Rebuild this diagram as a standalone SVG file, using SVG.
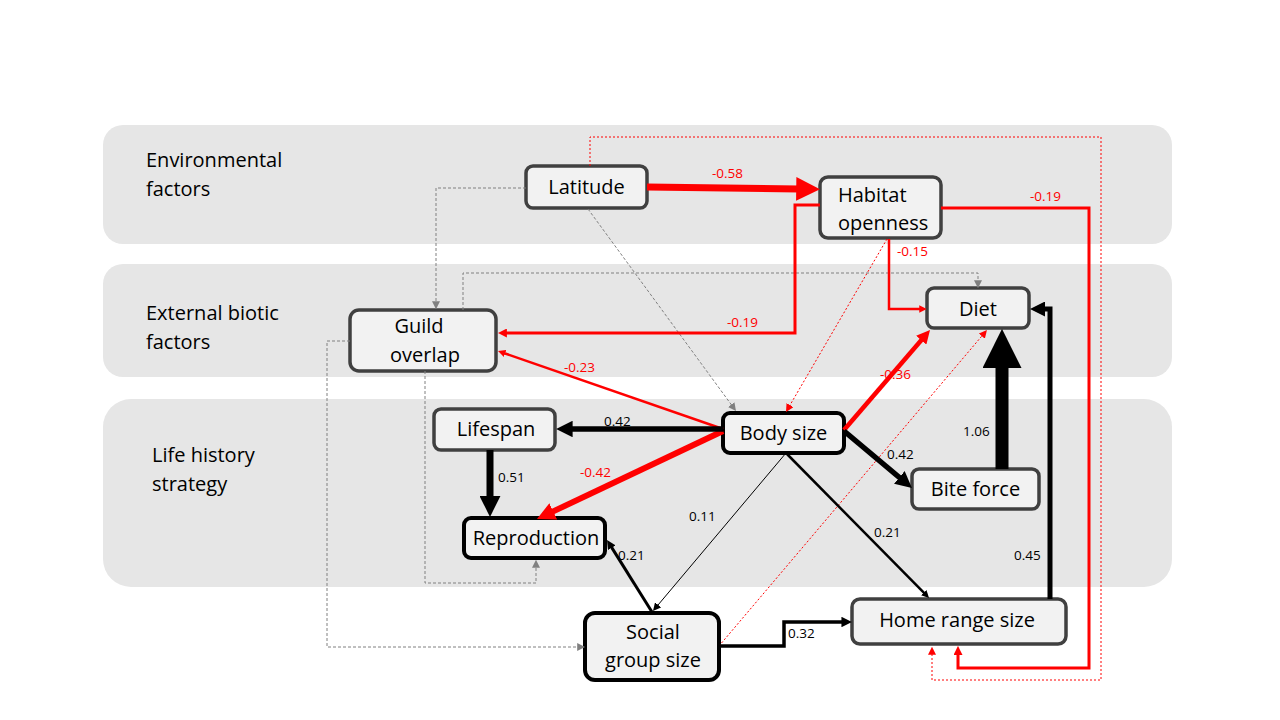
<svg xmlns="http://www.w3.org/2000/svg" width="1280" height="720" viewBox="0 0 1280 720">
<style>
.band{fill:#e6e6e6}
.bl{font-family:"Open Sans","Noto Sans",sans-serif;font-size:20px;fill:#000}
.nd{fill:#f2f2f2;stroke:#404040;stroke-width:3.5}
.nk{fill:#f2f2f2;stroke:#000;stroke-width:4}
.nt{font-family:"Open Sans","Noto Sans",sans-serif;font-size:20px;fill:#000;text-anchor:middle}
.lab{font-family:"Open Sans","Noto Sans",sans-serif;font-size:13.5px}
.r{fill:#ff0000}
.k{fill:#000}
.cr{fill:none;stroke:#ff0000;stroke-linejoin:miter}
.ck{fill:none;stroke:#000;stroke-linejoin:miter}
.cg{fill:none;stroke:#808080;stroke-width:1;stroke-dasharray:3,2}
.cd{fill:none;stroke:#ff0000;stroke-width:1;stroke-dasharray:2,2}
</style>
<defs>
<marker id="aR" viewBox="0 0 10 10" refX="1" refY="5" markerWidth="3" markerHeight="3" orient="auto" markerUnits="strokeWidth"><path d="M0,0L10,5L0,10z" fill="#ff0000"/></marker>
<marker id="aRL" viewBox="0 0 10 10" refX="1" refY="5" markerWidth="3.4" markerHeight="3.4" orient="auto" markerUnits="strokeWidth"><path d="M0,0L10,5L0,10z" fill="#ff0000"/></marker>
<marker id="aK" viewBox="0 0 10 10" refX="1" refY="5" markerWidth="3" markerHeight="3" orient="auto" markerUnits="strokeWidth"><path d="M0,0L10,5L0,10z" fill="#000"/></marker>
<marker id="aRs" viewBox="0 0 10 10" refX="1" refY="5" markerWidth="8" markerHeight="8" orient="auto" markerUnits="userSpaceOnUse"><path d="M0,0L10,5L0,10z" fill="#ff0000"/></marker>
<marker id="aKs" viewBox="0 0 10 10" refX="1" refY="5" markerWidth="8" markerHeight="8" orient="auto" markerUnits="userSpaceOnUse"><path d="M0,0L10,5L0,10z" fill="#000"/></marker>
<marker id="aGs" viewBox="0 0 10 10" refX="1" refY="5" markerWidth="8" markerHeight="8" orient="auto" markerUnits="userSpaceOnUse"><path d="M0,0L10,5L0,10z" fill="#808080"/></marker>
</defs>
<rect width="1280" height="720" fill="#fff"/>
<g id="bands">
<rect class="band" x="103" y="125" width="1069" height="119" rx="20"/>
<rect class="band" x="103" y="264" width="1069" height="113" rx="20"/>
<rect class="band" x="103" y="399" width="1069" height="188" rx="28"/>
<text class="bl" x="146" y="167">Environmental</text>
<text class="bl" x="146" y="196">factors</text>
<text class="bl" x="146" y="320">External biotic</text>
<text class="bl" x="146" y="349">factors</text>
<text class="bl" x="152" y="462">Life history</text>
<text class="bl" x="152" y="491">strategy</text>
</g>
<g id="node-latitude"><rect class="nd" x="526" y="166" width="121" height="42" rx="7"/><text class="nt" x="586.5" y="194">Latitude</text></g>
<g id="node-habitat"><rect class="nd" x="820" y="177" width="121" height="61" rx="8"/><text class="bl" x="838" y="202">Habitat</text><text class="bl" x="838" y="230">openness</text></g>
<g id="node-diet"><rect class="nd" x="927" y="288" width="102" height="40" rx="7"/><text class="nt" x="978" y="316">Diet</text></g>
<g id="node-guild"><rect class="nd" x="350" y="310" width="146" height="61" rx="9"/><text class="nt" x="419" y="333">Guild</text><text class="nt" x="425" y="362">overlap</text></g>
<g id="node-lifespan"><rect class="nd" x="434" y="409" width="121" height="41" rx="7"/><text class="nt" x="496" y="436">Lifespan</text></g>
<g id="node-bodysize"><rect class="nk" x="723" y="413" width="121" height="40" rx="7"/><text class="nt" x="783.5" y="440">Body size</text></g>
<g id="node-biteforce"><rect class="nd" x="912" y="469" width="127" height="40" rx="7"/><text class="nt" x="975.5" y="496">Bite force</text></g>
<g id="node-reproduction"><rect class="nk" x="464" y="518" width="141" height="40" rx="7"/><text class="nt" x="536" y="545">Reproduction</text></g>
<g id="node-social"><rect class="nk" x="585" y="613" width="134" height="67" rx="10"/><text class="nt" x="653" y="639">Social</text><text class="nt" x="653" y="667">group size</text></g>
<g id="node-homerange"><rect class="nd" x="852" y="599" width="214" height="45" rx="8"/><text class="nt" x="957" y="627">Home range size</text></g>
<g id="connectors">
<path class="cd" d="M590,166V137H1101V680H932V654" marker-end="url(#aRs)"/>
<path class="cd" d="M887,239L789.6,405.8" marker-end="url(#aRs)"/>
<path class="cd" d="M719,646L982.3,335.5" marker-end="url(#aRs)"/>
<path class="cg" d="M588,209L731.7,405.2" marker-end="url(#aGs)"/>
<path class="cg" d="M526,188H436V302" marker-end="url(#aGs)"/>
<path class="cg" d="M463,310V273H978V281" marker-end="url(#aGs)"/>
<path class="cg" d="M350,341H327V647H578" marker-end="url(#aGs)"/>
<path class="cg" d="M425,371V583H536V567" marker-end="url(#aGs)"/>
<path class="cr" stroke-width="7" d="M647,187L798.6,189" marker-end="url(#aRL)"/>
<path class="cr" stroke-width="3" d="M941,208H1089V668H958V654" marker-end="url(#aR)"/>
<path class="cr" stroke-width="3" d="M820,205H795V333H506" marker-end="url(#aR)"/>
<path class="cr" stroke-width="2.5" d="M889,239V309H920" marker-end="url(#aR)"/>
<path class="cr" stroke-width="2.5" d="M723,429L504.4,353.2" marker-end="url(#aR)"/>
<path class="cr" stroke-width="6" d="M723,431L551.6,512.1" marker-end="url(#aR)"/>
<path class="cr" stroke-width="4.5" d="M844,430L922.1,339.2" marker-end="url(#aR)"/>
<path class="ck" stroke-width="5.5" d="M723,429H571" marker-end="url(#aK)"/>
<path class="ck" stroke-width="7" d="M490,450V498" marker-end="url(#aK)"/>
<path class="ck" stroke-width="5.5" d="M844,431L900.6,478.5" marker-end="url(#aK)"/>
<path class="ck" stroke-width="13" d="M1002,469V364" marker-end="url(#aK)"/>
<path class="ck" stroke-width="5" d="M1050,599V309H1043.5" marker-end="url(#aK)"/>
<path class="ck" stroke-width="1" d="M786,453L657.6,605.5" marker-end="url(#aKs)"/>
<path class="ck" stroke-width="2.5" d="M786,453L924.3,593.2" marker-end="url(#aK)"/>
<path class="ck" stroke-width="3" d="M652,612L611.3,546.9" marker-end="url(#aK)"/>
<path class="ck" stroke-width="3.5" d="M718,646H784V622H842.5" marker-end="url(#aK)"/>
</g>
<g id="labels">
<text class="lab r" x="712" y="178">-0.58</text>
<text class="lab r" x="1030" y="201">-0.19</text>
<text class="lab r" x="727" y="327">-0.19</text>
<text class="lab r" x="897" y="256">-0.15</text>
<text class="lab r" x="564" y="372">-0.23</text>
<text class="lab k" x="604" y="426">0.42</text>
<text class="lab r" x="580" y="477">-0.42</text>
<text class="lab k" x="498" y="482">0.51</text>
<text class="lab r" x="880" y="379">-0.36</text>
<text class="lab k" x="887" y="459">0.42</text>
<text class="lab k" x="963" y="436">1.06</text>
<text class="lab k" x="689" y="521">0.11</text>
<text class="lab k" x="618" y="560">0.21</text>
<text class="lab k" x="874" y="537">0.21</text>
<text class="lab k" x="1014" y="560">0.45</text>
<text class="lab k" x="788" y="638">0.32</text>
</g>
</svg>
